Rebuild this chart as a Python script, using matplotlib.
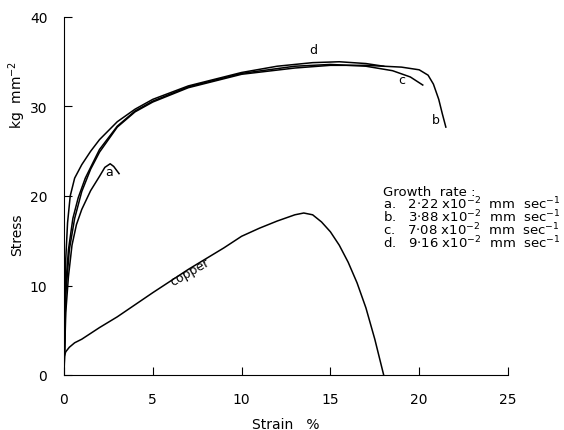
import matplotlib.pyplot as plt

# stress-strain curves, strain in %, stress in kg mm^-2
a_x = [0, 0.1, 0.25, 0.45, 0.7, 1.0, 1.5, 2.0, 2.3, 2.6, 2.8, 3.1]
a_y = [0, 7, 11, 14.5, 16.8, 18.5, 20.6, 22.2, 23.2, 23.6, 23.3, 22.5]

b_x = [0, 0.1, 0.3, 0.6, 1, 1.5, 2, 3, 4, 5, 7, 10, 13, 15, 17, 19, 20, 20.5, 20.8, 21.1, 21.3, 21.5]
b_y = [0, 9, 14, 17.5, 20.5, 23, 24.9, 27.7, 29.4, 30.5, 32.1, 33.6, 34.3, 34.6, 34.6, 34.4, 34.1, 33.5, 32.5, 30.8, 29.2, 27.7]

c_x = [0, 0.1, 0.25, 0.5, 0.8, 1.2, 2, 3, 4, 5, 7, 10, 13, 15, 17, 18.5, 19.5, 20.2]
c_y = [0, 10, 14, 17.5, 19.8, 22, 25.2, 27.8, 29.5, 30.6, 32.2, 33.7, 34.5, 34.7, 34.5, 34.0, 33.3, 32.4]

d_x = [0, 0.05, 0.1, 0.2, 0.35, 0.6, 1.0, 1.5, 2, 3, 4, 5, 7, 10, 12, 14, 15.5, 17, 18]
d_y = [0, 8, 13, 17, 20, 22, 23.5, 25, 26.3, 28.3, 29.7, 30.8, 32.3, 33.8, 34.5, 34.9, 35.0, 34.8, 34.5]

cu_x = [0, 0.1, 0.3, 0.6, 1, 2, 3, 5, 7, 9, 10, 11, 12, 13, 13.5, 14, 14.5, 15, 15.5, 16, 16.5, 17, 17.5, 18]
cu_y = [2, 2.6, 3.1, 3.6, 4.0, 5.3, 6.5, 9.2, 11.8, 14.2, 15.5, 16.4, 17.2, 17.9, 18.1, 17.9, 17.1, 16.0, 14.5, 12.6, 10.3, 7.5, 4.0, 0]

legend_lines = ["Growth  rate :",
                "a.   2$\\cdot$22 x10$^{-2}$  mm  sec$^{-1}$",
                "b.   3$\\cdot$88 x10$^{-2}$  mm  sec$^{-1}$",
                "c.   7$\\cdot$08 x10$^{-2}$  mm  sec$^{-1}$",
                "d.   9$\\cdot$16 x10$^{-2}$  mm  sec$^{-1}$"]

fig = plt.figure(figsize=(5.64, 4.31), dpi=100)
ax = fig.add_axes([64 / 564, 55 / 431, 444 / 564, 358 / 431])

for xs, ys in [(a_x, a_y), (b_x, b_y), (c_x, c_y), (d_x, d_y), (cu_x, cu_y)]:
    ax.plot(xs, ys, color="black", lw=1.1)

ax.text(2.3, 22.3, "a", fontsize=9)
ax.text(20.7, 28.2, "b", fontsize=9)
ax.text(18.8, 32.6, "c", fontsize=9)
ax.text(13.8, 36.0, "d", fontsize=9)
ax.text(7.1, 11.6, "copper", fontsize=9, rotation=30, ha="center", va="center")

ax.set_xlim(0, 25)
ax.set_ylim(0, 40)
ax.set_xticks([0, 5, 10, 15, 20, 25])
ax.set_yticks([0, 10, 20, 30, 40])
ax.tick_params(direction="in", length=6, labelsize=10, pad=12)
ax.spines["top"].set_visible(False)
ax.spines["right"].set_visible(False)

ax.set_xlabel("Strain   %", fontsize=10, labelpad=8)
fig.text(17 / 564, 1 - 235 / 431, "Stress", rotation=90, ha="center", va="center", fontsize=10)
fig.text(17 / 564, 1 - 95 / 431, "kg  mm$^{-2}$", rotation=90, ha="center", va="center", fontsize=10)

fig.text(383 / 564, 1 - 186 / 431, "\n".join(legend_lines), fontsize=9.5,
         va="top", ha="left", linespacing=0.75)

fig.savefig("out.png", dpi=100)
